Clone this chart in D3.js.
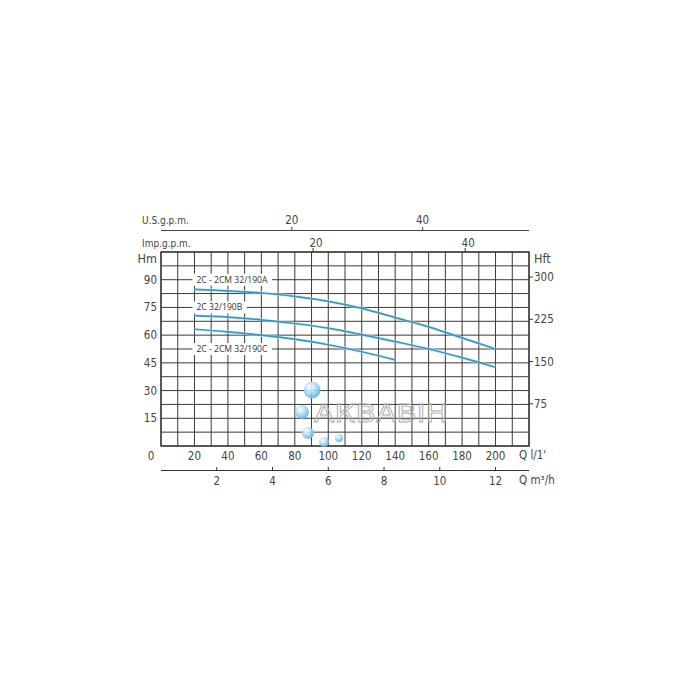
<!DOCTYPE html>
<html>
<head>
<meta charset="utf-8">
<script src="https://cdn.jsdelivr.net/npm/d3@7"></script>
<style>
  html, body { margin: 0; padding: 0; background: #fff; }
  svg { display: block; }
  text { font-family: "Liberation Sans Narrow", "DejaVu Sans Condensed", sans-serif; fill: #444; }
</style>
</head>
<body>
<svg id="chart" width="700" height="700"></svg>
<script>
// ---- data ----
const flowLpm = [20, 40, 60, 80, 100, 120, 140, 160, 180, 200];
const headA = [84.8, 84.0, 82.8, 81.0, 78.3, 74.5, 69.5, 64.5, 58.5, 52.5];
const headB = [70.6, 69.8, 68.3, 66.3, 63.8, 60.3, 56.5, 52.5, 47.8, 42.6];
const flowC = [20, 40, 60, 80, 100, 120, 140];
const headC = [63.2, 61.8, 60.0, 57.8, 54.8, 51.0, 46.6];
const seriesNames = ["2C - 2CM 32/190A", "2C 32/190B", "2C - 2CM 32/190C"];
const labelHeads = [90, 75, 52.5];
const hmTicks = [15, 30, 45, 60, 75, 90];
const hftTicks = [75, 150, 225, 300];
const lpmTicks = [20, 40, 60, 80, 100, 120, 140, 160, 180, 200];
const m3hTicks = [2, 4, 6, 8, 10, 12];
const impTicks = [20, 40];
const usTicks = [20, 40];

const svg = d3.select("#chart");
const x = d3.scaleLinear().domain([0, 220]).range([161, 529]);
const y = d3.scaleLinear().domain([0, 105]).range([446, 252]);
const yFt = d3.scaleLinear().domain([0, 105 * 3.2808]).range([446, 252]);
const xM3h = d3.scaleLinear().domain([0, 220 * 60 / 1000]).range([161, 529]);
const xImp = d3.scaleLinear().domain([0, 220 / 4.546]).range([161, 529]);
const xUs = d3.scaleLinear().domain([0, 220 / 3.91]).range([161, 529]);

const gridColor = "#3a3a3a";
// grid
const g = svg.append("g");
g.selectAll("line.v").data(d3.range(0, 221, 10)).join("line")
  .attr("x1", d => x(d)).attr("x2", d => x(d))
  .attr("y1", y(0)).attr("y2", y(105))
  .attr("stroke", gridColor).attr("stroke-width", 1);
g.selectAll("line.h").data(d3.range(0, 105.1, 7.5)).join("line")
  .attr("y1", d => y(d)).attr("y2", d => y(d))
  .attr("x1", x(0)).attr("x2", x(220))
  .attr("stroke", gridColor).attr("stroke-width", 1);
g.append("rect").attr("x", x(0)).attr("y", y(105))
  .attr("width", x(220) - x(0)).attr("height", y(0) - y(105))
  .attr("fill", "none").attr("stroke", "#333").attr("stroke-width", 1.3);

// watermark
const wm = svg.append("g");
wm.append("text").attr("x", 314).attr("y", 422)
  .style("font-family", "'DejaVu Sans', sans-serif")
  .attr("font-size", 24).attr("textLength", 134).attr("lengthAdjust", "spacingAndGlyphs")
  .style("fill", "none").attr("stroke", "#aaaaaa").attr("stroke-width", 0.8)
  .text("АКВАВІН");
const defs = svg.append("defs");
const rg = defs.append("radialGradient").attr("id", "bub").attr("cx", "38%").attr("cy", "32%").attr("r", "70%");
rg.append("stop").attr("offset", "0%").attr("stop-color", "#ffffff");
rg.append("stop").attr("offset", "25%").attr("stop-color", "#d8eefb");
rg.append("stop").attr("offset", "70%").attr("stop-color", "#8ccaee");
rg.append("stop").attr("offset", "100%").attr("stop-color", "#5aaee0");
const bubbles = [[312, 390, 8.5], [302, 412, 7], [308, 433, 6], [324, 442, 5], [339, 438, 4]];
wm.selectAll("circle").data(bubbles).join("circle")
  .attr("cx", d => d[0]).attr("cy", d => d[1]).attr("r", d => d[2])
  .attr("fill", "url(#bub)").attr("opacity", 0.9);

// curves
const line = d3.line().x(d => x(d[0])).y(d => y(d[1])).curve(d3.curveMonotoneX);
const curves = [d3.zip(flowLpm, headA), d3.zip(flowLpm, headB), d3.zip(flowC, headC)];
const cg = svg.append("g");
cg.selectAll("path.glow").data(curves).join("path")
  .attr("d", line).attr("fill", "none").attr("stroke", "#d4eef9").attr("stroke-width", 3.5).attr("opacity", 0.5);
cg.selectAll("path.c").data(curves).join("path")
  .attr("d", line).attr("fill", "none").attr("stroke", "#3599c2").attr("stroke-width", 1.7);

// curve labels
seriesNames.forEach((name, i) => {
  const lg = svg.append("g");
  const t = lg.append("text").attr("x", x(20) + 2).attr("y", y(labelHeads[i]))
    .attr("dominant-baseline", "central").attr("font-size", 8.6)
    .style("font-family", "'Open Sans', sans-serif").style("fill", "#333").text(name);
  const bb = t.node().getBBox();
  lg.insert("rect", "text").attr("x", bb.x - 4).attr("y", bb.y).attr("width", bb.width + 8)
    .attr("height", bb.height).attr("fill", "#fff");
});

// left axis (Hm)
const fs = 11.5;
svg.selectAll("text.hm").data(hmTicks).join("text")
  .attr("x", 157).attr("y", d => y(d)).attr("text-anchor", "end")
  .attr("dominant-baseline", "central").attr("font-size", fs).text(d => d);
svg.append("text").attr("x", 157).attr("y", 258).attr("text-anchor", "end")
  .attr("dominant-baseline", "central").attr("font-size", 12.5).text("Hm");
svg.append("text").attr("x", 151).attr("y", 456).attr("text-anchor", "middle")
  .attr("dominant-baseline", "central").attr("font-size", fs).text("0");

// right axis (Hft)
svg.selectAll("line.hft").data(hftTicks).join("line")
  .attr("x1", x(220)).attr("x2", x(220) + 4).attr("y1", d => yFt(d)).attr("y2", d => yFt(d))
  .attr("stroke", "#333");
svg.selectAll("text.hft").data(hftTicks).join("text")
  .attr("x", x(220) + 5).attr("y", d => yFt(d)).attr("dominant-baseline", "central")
  .attr("font-size", fs).text(d => d);
svg.append("text").attr("x", 534).attr("y", 258).attr("dominant-baseline", "central")
  .attr("font-size", 12.5).text("Hft");

// bottom l/min
svg.selectAll("text.lpm").data(lpmTicks).join("text")
  .attr("x", d => x(d)).attr("y", 456).attr("text-anchor", "middle")
  .attr("dominant-baseline", "central").attr("font-size", fs).text(d => d);
svg.append("text").attr("x", 519).attr("y", 455).attr("dominant-baseline", "central")
  .attr("font-size", fs).text("Q  l/1'");

// bottom m3/h
svg.append("line").attr("x1", x(0)).attr("x2", x(220)).attr("y1", 470.5).attr("y2", 470.5)
  .attr("stroke", "#333");
svg.selectAll("line.m3").data(m3hTicks).join("line")
  .attr("x1", d => xM3h(d)).attr("x2", d => xM3h(d)).attr("y1", 467).attr("y2", 470.5).attr("stroke", "#333");
svg.selectAll("text.m3").data(m3hTicks).join("text")
  .attr("x", d => xM3h(d)).attr("y", 481).attr("text-anchor", "middle")
  .attr("dominant-baseline", "central").attr("font-size", fs).text(d => d);
svg.append("text").attr("x", 519).attr("y", 480).attr("dominant-baseline", "central")
  .attr("font-size", fs).text("Q  m³/h");

// top Imp.g.p.m. (on the box top)
svg.selectAll("line.imp").data(impTicks).join("line")
  .attr("x1", d => xImp(d)).attr("x2", d => xImp(d)).attr("y1", 248).attr("y2", 252).attr("stroke", "#333");
svg.selectAll("text.imp").data(impTicks).join("text")
  .attr("x", d => xImp(d) + 3).attr("y", 243).attr("text-anchor", "middle")
  .attr("dominant-baseline", "central").attr("font-size", fs).text(d => d);
svg.append("text").attr("x", 142).attr("y", 243).attr("dominant-baseline", "central")
  .attr("font-size", 10).text("Imp.g.p.m.");

// top U.S.g.p.m.
svg.append("line").attr("x1", x(0)).attr("x2", x(220)).attr("y1", 230.5).attr("y2", 230.5).attr("stroke", "#444");
svg.selectAll("line.us").data(usTicks).join("line")
  .attr("x1", d => xUs(d)).attr("x2", d => xUs(d)).attr("y1", 227).attr("y2", 230.5).attr("stroke", "#444");
svg.selectAll("text.us").data(usTicks).join("text")
  .attr("x", d => xUs(d)).attr("y", 220).attr("text-anchor", "middle")
  .attr("dominant-baseline", "central").attr("font-size", fs).text(d => d);
svg.append("text").attr("x", 142).attr("y", 220).attr("dominant-baseline", "central")
  .attr("font-size", 10).text("U.S.g.p.m.");
</script>
</body>
</html>
